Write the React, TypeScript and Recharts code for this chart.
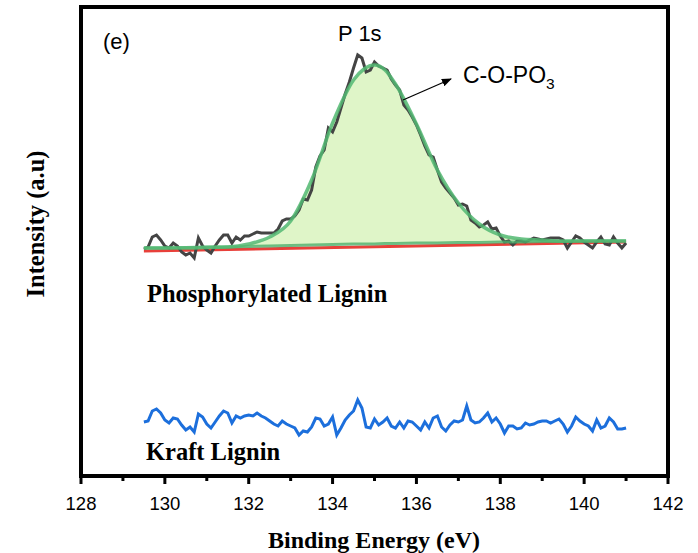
import { Area, ComposedChart, Line, XAxis, YAxis } from 'recharts';

// binding energy grid of the raw spectra (eV)
const energy = [
  129.5, 129.6, 129.7, 129.8, 129.9, 130.0, 130.1, 130.2, 130.3, 130.4, 130.5, 130.6, 130.7, 130.8, 130.9,
  131.0, 131.1, 131.2, 131.3, 131.4, 131.5, 131.6, 131.7, 131.8, 131.9, 132.0, 132.1, 132.2, 132.3, 132.4,
  132.5, 132.6, 132.7, 132.8, 132.9, 133.0, 133.1, 133.2, 133.3, 133.4, 133.5, 133.6, 133.7, 133.8, 133.9,
  134.0, 134.1, 134.2, 134.3, 134.4, 134.5, 134.6, 134.7, 134.8, 134.9, 135.0, 135.1, 135.2, 135.3, 135.4,
  135.5, 135.6, 135.7, 135.8, 135.9, 136.0, 136.1, 136.2, 136.3, 136.4, 136.5, 136.6, 136.7, 136.8, 136.9,
  137.0, 137.1, 137.2, 137.3, 137.4, 137.5, 137.6, 137.7, 137.8, 137.9, 138.0, 138.1, 138.2, 138.3, 138.4,
  138.5, 138.6, 138.7, 138.8, 138.9, 139.0, 139.1, 139.2, 139.3, 139.4, 139.5, 139.6, 139.7, 139.8, 139.9,
  140.0, 140.1, 140.2, 140.3, 140.4, 140.5, 140.6, 140.7, 140.8, 140.9, 141.0
];

const phosphorylated = [
  227, 229, 239, 241, 236, 230, 228, 233, 230, 224, 221, 223, 218, 238, 230,
  226, 223, 230, 236, 241, 241, 233, 239, 236, 240, 240, 242, 244, 243, 243,
  243, 243, 247, 255, 257, 257, 260, 266, 277, 276, 286, 309, 320, 326, 348,
  344, 354, 368, 382, 394, 408, 421, 418, 404, 406, 414, 410, 408, 406, 397,
  391, 386, 371, 366, 359, 351, 341, 330, 321, 319, 306, 294, 288, 283, 278,
  271, 272, 270, 256, 253, 249, 251, 254, 247, 248, 240, 234, 235, 231, 235,
  235, 234, 236, 238, 237, 236, 237, 238, 238, 238, 236, 228, 234, 240, 238,
  234, 231, 228, 234, 239, 232, 231, 239, 233, 228, 233
];

const kraft = [
  54, 55, 65, 67, 63, 56, 53, 58, 57, 51, 46, 49, 44, 62, 59,
  52, 48, 54, 60, 65, 63, 53, 60, 58, 60, 61, 60, 63, 60, 58,
  55, 52, 50, 55, 52, 50, 48, 41, 45, 44, 49, 58, 57, 50, 52,
  59, 41, 48, 56, 61, 65, 76, 68, 49, 48, 57, 51, 54, 58, 50,
  48, 54, 48, 55, 54, 50, 46, 54, 48, 58, 60, 49, 45, 51, 55,
  54, 56, 70, 56, 53, 54, 58, 63, 54, 58, 52, 43, 50, 50, 47,
  48, 53, 51, 52, 54, 55, 55, 53, 55, 57, 52, 44, 50, 59, 55,
  52, 50, 45, 56, 48, 50, 58, 54, 47, 47, 48
];

// C-O-PO3 component fit
const fitEnergy = [
  129.5, 130, 130.5, 131, 131.5, 132, 132.5, 133, 133.5, 134, 134.5, 134.75, 135,
  135.25, 135.5, 136, 136.5, 137, 137.5, 138, 138.5, 139, 139.5, 140, 140.5, 141
];
const fitIntensity = [
  228, 228, 228, 228.5, 229, 232, 239, 255, 296, 353, 396, 407, 411,
  406, 392, 352, 306, 273, 252, 241, 237, 236, 235, 235, 235, 235
];
const fitBaseline = [
  228, 228, 228.5, 229, 229, 229.5, 230, 230.5, 231, 231.5, 232, 232, 232,
  232.5, 232.5, 233, 233, 233.5, 233.5, 234, 234, 234.5, 234.5, 235, 235, 235
];

const shirleyEnergy = [129.5, 141];
const shirleyBaseline = [225, 234];

const xTicks = [128, 129, 130, 131, 132, 133, 134, 135, 136, 137, 138, 139, 140, 141, 142];

const phosData = energy.map((e, i) => ({ e, v: phosphorylated[i] }));
const kraftData = energy.map((e, i) => ({ e, v: kraft[i] }));
const fitData = fitEnergy.map((e, i) => ({ e, v: fitIntensity[i], base: fitBaseline[i], band: [fitBaseline[i], fitIntensity[i]] }));
const shirleyData = shirleyEnergy.map((e, i) => ({ e, v: shirleyBaseline[i] }));

const sans = '"Liberation Sans", Arial, sans-serif';
const serif = '"Liberation Serif", "Times New Roman", serif';

function EnergyTick(props: any) {
  const { x, y, payload } = props;
  const major = payload.value % 2 === 0;
  return (
    <g>
      <line x1={x} x2={x} y1={y} y2={y + (major ? 8 : 5)} stroke="#000" strokeWidth={3} />
      {major && (
        <text x={x} y={y + 34} textAnchor="middle" fontFamily={sans} fontSize={18.5} fill="#000">
          {payload.value}
        </text>
      )}
    </g>
  );
}

export default function App() {
  return (
    <div style={{ position: 'absolute', left: 0, top: 0, width: 698, height: 553, background: '#fff' }}>
      <ComposedChart width={698} height={553} margin={{ top: 7, right: 30, bottom: 47, left: 81 }}>
        <XAxis
          dataKey="e"
          type="number"
          domain={[128, 142]}
          ticks={xTicks}
          interval={0}
          axisLine={false}
          tickLine={false}
          tickSize={0}
          tickMargin={0}
          height={30}
          tick={<EnergyTick />}
          allowDuplicatedCategory={false}
        />
        <YAxis type="number" domain={[0, 469]} hide />
        <Line data={shirleyData} dataKey="v" type="linear" stroke="#e8403a" strokeWidth={3} dot={false} activeDot={false} isAnimationActive={false} />
        <Line data={phosData} dataKey="v" type="linear" stroke="#444444" strokeWidth={3} dot={false} activeDot={false} isAnimationActive={false} />
        <Area data={fitData} dataKey="band" type="monotone" stroke="none" fill="#b8e986" fillOpacity={0.45} activeDot={false} isAnimationActive={false} />
        <Line data={fitData} dataKey="base" type="linear" stroke="#4caf6a" strokeOpacity={0.8} strokeWidth={3} dot={false} activeDot={false} isAnimationActive={false} />
        <Line data={fitData} dataKey="v" type="monotone" stroke="#52b872" strokeOpacity={0.85} strokeWidth={3.5} dot={false} activeDot={false} isAnimationActive={false} />
        <Line data={kraftData} dataKey="v" type="linear" stroke="#1c6fdc" strokeWidth={3} dot={false} activeDot={false} isAnimationActive={false} />
      </ComposedChart>
      <svg width={698} height={553} style={{ position: 'absolute', left: 0, top: 0, pointerEvents: 'none' }}>
        <defs>
          <marker id="head" markerWidth="10" markerHeight="8" refX="9" refY="4" orient="auto" markerUnits="userSpaceOnUse">
            <path d="M0,0 L10,4 L0,8 Z" fill="#000" />
          </marker>
        </defs>
        <g stroke="#000" strokeWidth={4} strokeLinecap="square">
          <line x1={81} y1={7} x2={668} y2={7} />
          <line x1={668} y1={7} x2={668} y2={476} />
          <line x1={81} y1={476} x2={668} y2={476} />
          <line x1={81} y1={7} x2={81} y2={476} />
        </g>
        <text x={103} y={49} fontFamily={sans} fontSize={22} fill="#000">(e)</text>
        <text x={338} y={41} fontFamily={sans} fontSize={22} fill="#000">P 1s</text>
        <text x={463} y={83} fontFamily={sans} fontSize={23} fill="#000">
          C-O-PO<tspan fontSize={15.5} dy={6}>3</tspan>
        </text>
        <line x1={403} y1={100} x2={451} y2={79} stroke="#000" strokeWidth={1.3} markerEnd="url(#head)" />
        <text x={147} y={302} fontFamily={serif} fontWeight="bold" fontSize={24.5} fill="#000">Phosphorylated Lignin</text>
        <text x={146} y={460} fontFamily={serif} fontWeight="bold" fontSize={24.5} fill="#000">Kraft Lignin</text>
        <text x={374} y={548} textAnchor="middle" fontFamily={serif} fontWeight="bold" fontSize={24} fill="#000">Binding Energy (eV)</text>
        <text x={44} y={224} transform="rotate(-90 44 224)" textAnchor="middle" fontFamily={serif} fontWeight="bold" fontSize={24.5} fill="#000">Intensity (a.u)</text>
      </svg>
    </div>
  );
}
